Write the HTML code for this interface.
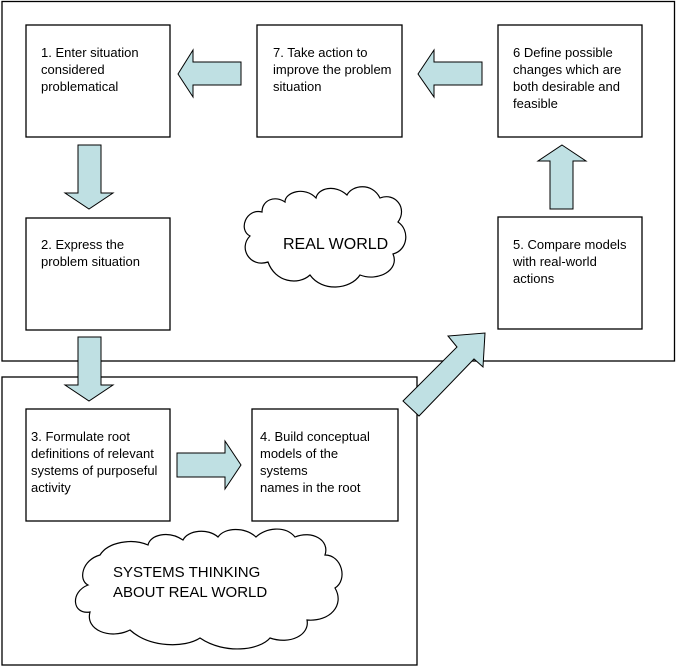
<!DOCTYPE html>
<html><head><style>
body{margin:0;background:#fff;}
svg{display:block;}
text{font-family:"Liberation Sans",Arial,sans-serif;font-size:13px;fill:#000;}
</style></head><body>
<svg width="676" height="667" viewBox="0 0 676 667">
<g fill="#fff" stroke="#000" stroke-width="1.3">
<rect x="2" y="1.5" width="672.5" height="359.5"/>
<rect x="2" y="377" width="415" height="288"/>
<rect x="26" y="25" width="144" height="112"/>
<rect x="257" y="25" width="145" height="112"/>
<rect x="498" y="25" width="144" height="112"/>
<rect x="26" y="218" width="144" height="112"/>
<rect x="498" y="217" width="144" height="112"/>
<rect x="26" y="409" width="144" height="112"/>
<rect x="252" y="409" width="146" height="112"/>
</g>
<g fill="#bfe0e3" stroke="#000" stroke-width="1">
<polygon points="178,74 193,50 193,62 241,62 241,85 193,85 193,97"/>
<polygon points="418,74 434,50 434,62 482,62 482,85 434,85 434,97"/>
<polygon points="78,145 101,145 101,193 113,193 89,209 65,193 78,193"/>
<polygon points="78,337 101,337 101,385 113,385 89,401 65,385 78,385"/>
<polygon points="177,453 225,453 225,441 241,465 225,489 225,477 177,477"/>
<polygon points="562,145 586,161 573,161 573,209 550,209 550,161 538,161"/>
<polygon points="403,401 457,347 448,336 485,333 483,367 474,359 419,416"/>
</g>
<g fill="#fff" stroke="#000" stroke-width="1.2">
<path d="M262,212 C246,208 238,230 250,236 C238,248 250,268 268,262 C275,282 298,286 310,275 C322,292 350,290 360,275 C378,282 400,270 393,254 C408,250 410,230 398,222 C408,208 395,192 380,198 C372,182 352,185 347,195 C335,184 318,188 316,198 C305,186 285,192 285,202 C275,195 262,200 262,212 Z"/>
<path d="M100,555 C82,560 78,580 88,585 C70,592 72,615 90,612 C85,630 110,640 130,630 C150,648 185,648 200,638 C225,655 260,650 270,638 C290,645 310,635 307,620 C330,622 345,605 335,588 C348,580 342,555 325,555 C330,540 312,530 295,537 C285,525 265,528 256,537 C245,527 225,527 218,537 C208,528 188,530 183,540 C168,530 150,535 148,545 C132,538 108,542 100,555 Z"/>
</g>
<text x="283" y="249" style="font-size:16px">REAL WORLD</text>
<text x="113" y="577" style="font-size:15px">SYSTEMS THINKING</text>
<text x="113" y="597" style="font-size:15px">ABOUT REAL WORLD</text>
<text x="41" y="57">1. Enter situation</text>
<text x="41" y="74">considered</text>
<text x="41" y="91">problematical</text>
<text x="273" y="57">7. Take action to</text>
<text x="273" y="74">improve the problem</text>
<text x="273" y="91">situation</text>
<text x="513" y="57">6 Define possible</text>
<text x="513" y="74">changes which are</text>
<text x="513" y="91">both desirable and</text>
<text x="513" y="108">feasible</text>
<text x="41" y="249">2. Express the</text>
<text x="41" y="266">problem situation</text>
<text x="513" y="249">5. Compare models</text>
<text x="513" y="266">with real-world</text>
<text x="513" y="283">actions</text>
<text x="31" y="441">3. Formulate root</text>
<text x="31" y="458">definitions of relevant</text>
<text x="31" y="475">systems of purposeful</text>
<text x="31" y="492">activity</text>
<text x="260" y="441">4. Build conceptual</text>
<text x="260" y="458">models of the</text>
<text x="260" y="475">systems</text>
<text x="260" y="492">names in the root</text>
</svg>
</body></html>
